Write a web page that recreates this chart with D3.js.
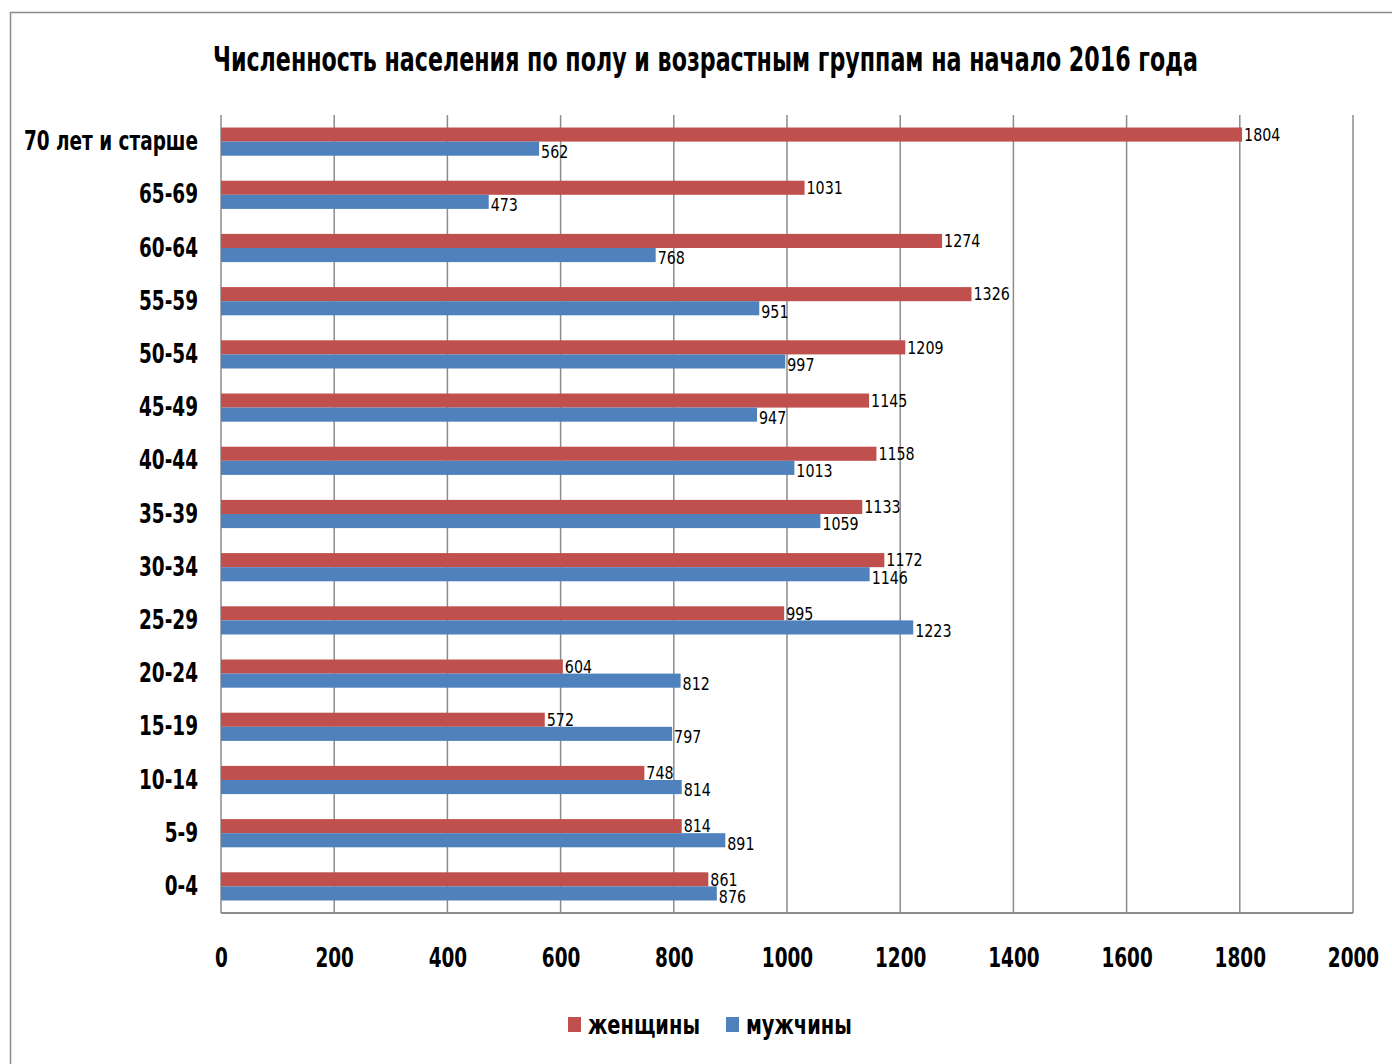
<!DOCTYPE html>
<html>
<head>
<meta charset="utf-8">
<script src="https://cdn.jsdelivr.net/npm/d3@7"></script>
<style>
	body { margin: 0; background: #fff; }
	text { font-family: "Liberation Sans Narrow", "Arial Narrow", "DejaVu Sans Condensed", sans-serif; }
</style>
</head>
<body>
<svg id="chart" width="1392" height="1064"></svg>
<script>
var categories = ['70 лет и старше', '65-69', '60-64', '55-59', '50-54', '45-49', '40-44',
	'35-39', '30-34', '25-29', '20-24', '15-19', '10-14', '5-9', '0-4'];
var women = [1804, 1031, 1274, 1326, 1209, 1145, 1158, 1133, 1172, 995, 604, 572, 748, 814, 861];
var men = [562, 473, 768, 951, 997, 947, 1013, 1059, 1146, 1223, 812, 797, 814, 891, 876];
var seriesNames = ['женщины', 'мужчины'];
var seriesColors = ['#C0504D', '#4F81BD'];
var xTicks = [0, 200, 400, 600, 800, 1000, 1200, 1400, 1600, 1800, 2000];

var svg = d3.select('#chart'),
	margin = { top: 115, right: 39, bottom: 151, left: 221 },
	width = +svg.attr('width') - margin.left - margin.right,
	height = +svg.attr('height') - margin.top - margin.bottom;

// no narrow font available offline: squeeze the glyphs to get a Calibri-like width
function squeeze(sel, k) {
	sel.each(function () {
		var w = this.getComputedTextLength();
		d3.select(this).attr('textLength', w * k).attr('lengthAdjust', 'spacingAndGlyphs');
	});
}

// outer frame (only top and left edges visible in the picture)
svg.append('path')
	.attr('d', 'M10.5,1064 L10.5,12.5 L1392,12.5')
	.attr('fill', 'none')
	.attr('stroke', '#8a8a8a')
	.attr('stroke-width', 1.5);

svg.append('text')
	.attr('x', 213)
	.attr('y', 71)
	.attr('textLength', 985)
	.attr('lengthAdjust', 'spacingAndGlyphs')
	.style('font-size', '33px')
	.style('font-weight', 'bold')
	.text('Численность населения по полу и возрастным группам на начало 2016 года');

var g = svg.append('g').attr('transform', 'translate(' + margin.left + ',' + margin.top + ')');

var scaleX = d3.scaleLinear().domain([0, 2000]).range([0, width]);
var scaleY = d3.scaleBand().domain(categories).range([0, height]).paddingInner(0.47).paddingOuter(0.235);
var scaleSub = d3.scaleBand().domain([0, 1]).range([0, scaleY.bandwidth()]);

// gridlines
g.append('g')
	.selectAll('line')
	.data(xTicks)
	.enter().append('line')
	.attr('x1', function (d) { return scaleX(d); })
	.attr('x2', function (d) { return scaleX(d); })
	.attr('y1', 0)
	.attr('y2', height)
	.attr('stroke', '#8c8c8c')
	.attr('stroke-width', 1.5);

g.append('line')
	.attr('x1', 0).attr('x2', width)
	.attr('y1', height).attr('y2', height)
	.attr('stroke', '#8c8c8c')
	.attr('stroke-width', 2);

// x axis labels
var xAxis = g.append('g')
	.attr('transform', 'translate(0,' + height + ')')
	.call(d3.axisBottom(scaleX).tickValues(xTicks).tickSize(0).tickPadding(35).tickFormat(d3.format('d')));
xAxis.select('.domain').remove();
xAxis.selectAll('text')
	.attr('fill', '#000')
	.style('font-size', '27px')
	.style('font-weight', 'bold')
	.call(squeeze, 0.76);

// y axis labels
var yAxis = g.append('g')
	.call(d3.axisLeft(scaleY).tickSize(0).tickPadding(23));
yAxis.select('.domain').remove();
yAxis.selectAll('text')
	.attr('fill', '#000')
	.style('font-size', '27px')
	.style('font-weight', 'bold')
	.call(squeeze, 0.76);

var series = [women, men];
series.forEach(function (vals, si) {
	var rows = categories.map(function (c, i) { return { cat: c, v: vals[i] }; });
	var grp = g.append('g');
	grp.selectAll('rect')
		.data(rows)
		.enter().append('rect')
		.attr('x', 0)
		.attr('y', function (d) { return scaleY(d.cat) + scaleSub(si); })
		.attr('width', function (d) { return scaleX(d.v); })
		.attr('height', scaleSub.bandwidth())
		.attr('fill', seriesColors[si]);
	grp.selectAll('text')
		.data(rows)
		.enter().append('text')
		.attr('x', function (d) { return scaleX(d.v) + 2; })
		.attr('y', function (d) { return scaleY(d.cat) + scaleSub(si) + scaleSub.bandwidth() / 2 + (si ? 3 : 0); })
		.attr('dy', '0.35em')
		.style('font-size', '18px')
		.text(function (d) { return d.v; })
		.call(squeeze, 0.88);
});

// legend
var legend = svg.append('g').attr('transform', 'translate(568,1025)');
var legX = [0, 158];
seriesNames.forEach(function (name, i) {
	var item = legend.append('g').attr('transform', 'translate(' + legX[i] + ',0)');
	item.append('rect')
		.attr('x', 0).attr('y', -8)
		.attr('width', 13).attr('height', 15)
		.attr('fill', seriesColors[i]);
	item.append('text')
		.attr('x', 20)
		.attr('y', 0)
		.attr('dy', '0.35em')
		.style('font-size', '26px')
		.style('font-weight', 'bold')
		.text(name)
		.call(squeeze, 0.83);
});
</script>
</body>
</html>
